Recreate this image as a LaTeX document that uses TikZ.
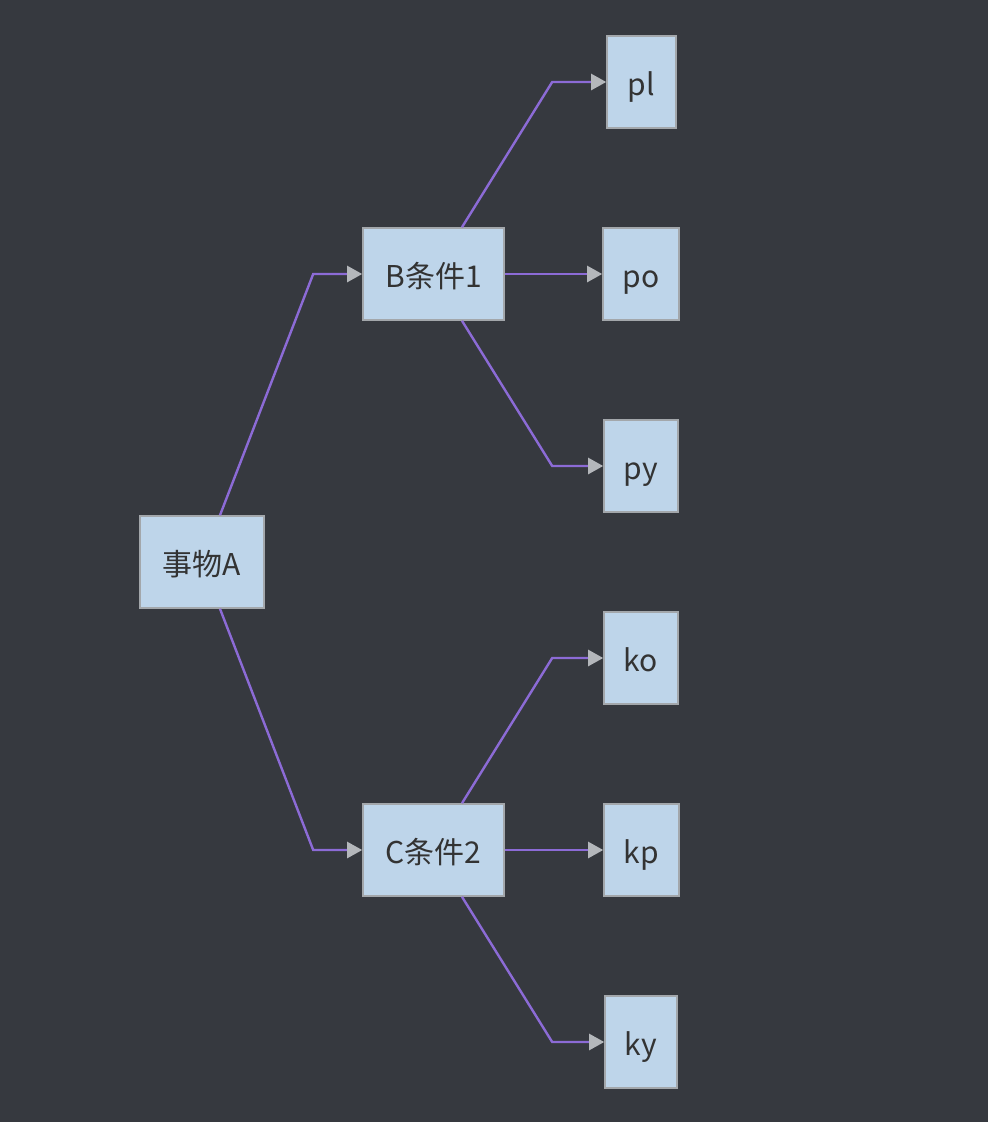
\documentclass[tikz,border=0pt]{standalone}
\usepackage{fontspec}
\newfontfamily\cjk{Noto Sans CJK SC}
\usepackage{tikz}
\usetikzlibrary{positioning, arrows.meta, calc}
\definecolor{flow-bg}{HTML}{36393F}
\definecolor{flow-fill}{HTML}{BED5EA}
\definecolor{flow-border}{HTML}{A3A7AB}
\definecolor{flow-line}{HTML}{8C6BD6}
\definecolor{flow-tip}{HTML}{B4B7BB}
\definecolor{flow-text}{HTML}{333333}

\begin{document}
\begin{tikzpicture}[
    x=1pt, y=-1pt,
    box/.style={draw=flow-border, fill=flow-fill, line width=1.6pt, inner sep=0pt,
                minimum height=92pt, text=flow-text, text height=26pt, text depth=0pt,
                font=\cjk\fontsize{30}{36}\selectfont},
    edge/.style={flow-line, line width=2.4pt,
                 -{Triangle[length=15pt, width=16pt, color=flow-tip]}},
]
    % Background and bounds
    \fill[flow-bg] (0,0) rectangle (988,1122);
    \useasboundingbox (0,0) rectangle (988,1122);

    % Root
    \node[box, minimum width=124pt] (thing) at (202, 562) {事物A};

    % Conditions
    \node[box, minimum width=141pt] (condB) at (433.5, 274) {B条件1};
    \node[box, minimum width=141pt] (condC) at (433.5, 850) {C条件2};

    % Leaves of B
    \node[box, minimum width=69pt] (pl) at (641.5, 82)  {pl};
    \node[box, minimum width=76pt] (po) at (641, 274)   {po};
    \node[box, minimum width=74pt] (py) at (641, 466)   {py};

    % Leaves of C
    \node[box, minimum width=74pt] (ko) at (641, 658)   {ko};
    \node[box, minimum width=75pt] (kp) at (641.5, 850) {kp};
    \node[box, minimum width=72pt] (ky) at (641, 1042)  {ky};

    % Arrows
    \draw[edge] ([xshift=18pt]thing.north) -- ([xshift=-49pt]condB.west) -- (condB.west);
    \draw[edge] ([xshift=18pt]thing.south) -- ([xshift=-49pt]condC.west) -- (condC.west);

    \draw[edge] ([xshift=28.5pt]condB.north) -- ([xshift=-54pt]pl.west) -- (pl.west);
    \draw[edge] (condB.east) -- (po.west);
    \draw[edge] ([xshift=28.5pt]condB.south) -- ([xshift=-51pt]py.west) -- (py.west);

    \draw[edge] ([xshift=28.5pt]condC.north) -- ([xshift=-51pt]ko.west) -- (ko.west);
    \draw[edge] (condC.east) -- (kp.west);
    \draw[edge] ([xshift=28.5pt]condC.south) -- ([xshift=-52pt]ky.west) -- (ky.west);
\end{tikzpicture}
\end{document}
